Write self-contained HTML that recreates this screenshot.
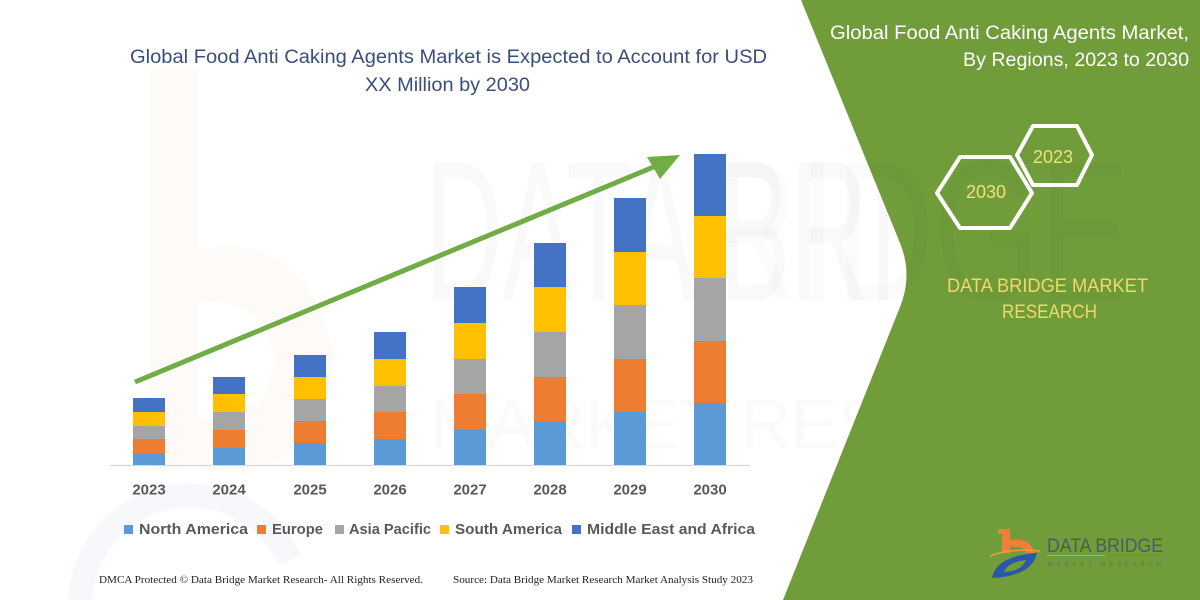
<!DOCTYPE html>
<html>
<head>
<meta charset="utf-8">
<style>
  html,body{margin:0;padding:0;background:#ffffff;width:1200px;height:600px;overflow:hidden;}
  svg{display:block;}
  text{font-family:"Liberation Sans", sans-serif;}
</style>
</head>
<body>
<svg width="1200" height="600" viewBox="0 0 1200 600" xmlns="http://www.w3.org/2000/svg">
  <rect x="0" y="0" width="1200" height="600" fill="#ffffff"/>

  <!-- faint watermarks -->
  <g opacity="0.045">
    <path d="M150 70 L198 70 L198 250 Q300 230 330 340 Q345 440 250 470 L150 470 Z M198 300 L198 420 Q270 420 275 360 Q270 300 198 300 Z" fill="#f08a4b" fill-rule="evenodd"/>
  </g>
  <path d="M80 600 A110 110 0 0 1 290 560" fill="none" stroke="#e6ebf3" stroke-width="24" opacity="0.35"/>
  <text x="425" y="300" font-size="200" textLength="705" lengthAdjust="spacingAndGlyphs" fill="#000" opacity="0.018">DATA BRIDGE</text>
  <text x="430" y="448" font-size="70" textLength="700" lengthAdjust="spacing" fill="#000" opacity="0.015">MARKET RESEARCH</text>

  <!-- green panel -->
  <path d="M801 0 L1200 0 L1200 600 L783 600 L900 307 Q913 275 900 243 Z" fill="#709c3a"/>
  <text x="700" y="300" font-size="200" textLength="430" lengthAdjust="spacingAndGlyphs" fill="#000" opacity="0.012">RIDGE</text>

  <!-- main title -->
  <text x="130" y="63" font-size="19" fill="#3a4e7c" textLength="637" lengthAdjust="spacingAndGlyphs">Global Food Anti Caking Agents Market is Expected to Account for USD</text>
  <text x="365" y="91" font-size="19" fill="#3a4e7c" textLength="165" lengthAdjust="spacingAndGlyphs">XX Million by 2030</text>

  <!-- axis -->
  <line x1="110" y1="465.5" x2="750" y2="465.5" stroke="#d9d9d9" stroke-width="1.2"/>

  <!-- bars -->
  <g id="bars">
    <rect x="133" y="398" width="32" height="14" fill="#4472c4"/>
    <rect x="133" y="412" width="32" height="14" fill="#ffc000"/>
    <rect x="133" y="426" width="32" height="13" fill="#a5a5a5"/>
    <rect x="133" y="439" width="32" height="14" fill="#ed7d31"/>
    <rect x="133" y="453" width="32" height="12" fill="#5b9bd5"/>

    <rect x="213" y="377" width="32" height="17" fill="#4472c4"/>
    <rect x="213" y="394" width="32" height="18" fill="#ffc000"/>
    <rect x="213" y="412" width="32" height="18" fill="#a5a5a5"/>
    <rect x="213" y="430" width="32" height="18" fill="#ed7d31"/>
    <rect x="213" y="448" width="32" height="17" fill="#5b9bd5"/>

    <rect x="294" y="355" width="32" height="22" fill="#4472c4"/>
    <rect x="294" y="377" width="32" height="22" fill="#ffc000"/>
    <rect x="294" y="399" width="32" height="22" fill="#a5a5a5"/>
    <rect x="294" y="421" width="32" height="22" fill="#ed7d31"/>
    <rect x="294" y="443" width="32" height="22" fill="#5b9bd5"/>

    <rect x="374" y="332" width="32" height="27" fill="#4472c4"/>
    <rect x="374" y="359" width="32" height="27" fill="#ffc000"/>
    <rect x="374" y="386" width="32" height="26" fill="#a5a5a5"/>
    <rect x="374" y="412" width="32" height="27" fill="#ed7d31"/>
    <rect x="374" y="439" width="32" height="26" fill="#5b9bd5"/>

    <rect x="454" y="287" width="32" height="36" fill="#4472c4"/>
    <rect x="454" y="323" width="32" height="36" fill="#ffc000"/>
    <rect x="454" y="359" width="32" height="35" fill="#a5a5a5"/>
    <rect x="454" y="394" width="32" height="36" fill="#ed7d31"/>
    <rect x="454" y="430" width="32" height="35" fill="#5b9bd5"/>

    <rect x="534" y="243" width="32" height="44" fill="#4472c4"/>
    <rect x="534" y="287" width="32" height="45" fill="#ffc000"/>
    <rect x="534" y="332" width="32" height="45" fill="#a5a5a5"/>
    <rect x="534" y="377" width="32" height="44" fill="#ed7d31"/>
    <rect x="534" y="421" width="32" height="44" fill="#5b9bd5"/>

    <rect x="614" y="198" width="32" height="54" fill="#4472c4"/>
    <rect x="614" y="252" width="32" height="53" fill="#ffc000"/>
    <rect x="614" y="305" width="32" height="54" fill="#a5a5a5"/>
    <rect x="614" y="359" width="32" height="53" fill="#ed7d31"/>
    <rect x="614" y="412" width="32" height="53" fill="#5b9bd5"/>

    <rect x="694" y="154" width="32" height="62" fill="#4472c4"/>
    <rect x="694" y="216" width="32" height="62" fill="#ffc000"/>
    <rect x="694" y="278" width="32" height="63" fill="#a5a5a5"/>
    <rect x="694" y="341" width="32" height="62" fill="#ed7d31"/>
    <rect x="694" y="403" width="32" height="62" fill="#5b9bd5"/>
  </g>

  <!-- arrow -->
  <line x1="135" y1="382" x2="656" y2="166" stroke="#70ad47" stroke-width="5"/>
  <polygon points="680,155 647,157 660,179" fill="#70ad47"/>

  <!-- year labels -->
  <g font-size="15" font-weight="bold" fill="#595959" text-anchor="middle">
    <text x="149" y="494.5">2023</text>
    <text x="229" y="494.5">2024</text>
    <text x="310" y="494.5">2025</text>
    <text x="390" y="494.5">2026</text>
    <text x="470" y="494.5">2027</text>
    <text x="550" y="494.5">2028</text>
    <text x="630" y="494.5">2029</text>
    <text x="710" y="494.5">2030</text>
  </g>

  <!-- legend -->
  <g font-size="15" font-weight="bold" fill="#595959">
    <rect x="124" y="525" width="9" height="9" fill="#5b9bd5"/>
    <text x="139" y="534" textLength="109" lengthAdjust="spacingAndGlyphs">North America</text>
    <rect x="257" y="525" width="9" height="9" fill="#ed7d31"/>
    <text x="272" y="534" textLength="51" lengthAdjust="spacingAndGlyphs">Europe</text>
    <rect x="335" y="525" width="9" height="9" fill="#a5a5a5"/>
    <text x="349" y="534" textLength="82" lengthAdjust="spacingAndGlyphs">Asia Pacific</text>
    <rect x="440" y="525" width="9" height="9" fill="#ffc000"/>
    <text x="455" y="534" textLength="107" lengthAdjust="spacingAndGlyphs">South America</text>
    <rect x="572" y="525" width="9" height="9" fill="#4472c4"/>
    <text x="587" y="534" textLength="168" lengthAdjust="spacingAndGlyphs">Middle East and Africa</text>
  </g>

  <!-- footer -->
  <g font-size="11" fill="#222222">
    <text x="99" y="583" textLength="324" lengthAdjust="spacingAndGlyphs" style="font-family:'Liberation Serif',serif">DMCA Protected © Data Bridge Market Research-  All Rights Reserved.</text>
    <text x="453" y="583" textLength="300" lengthAdjust="spacingAndGlyphs" style="font-family:'Liberation Serif',serif">Source: Data Bridge Market Research  Market Analysis Study 2023</text>
  </g>

  <!-- right panel title -->
  <text x="830" y="39" font-size="19" fill="#ffffff" textLength="359" lengthAdjust="spacingAndGlyphs">Global Food Anti Caking Agents Market,</text>
  <text x="963" y="66" font-size="19" fill="#ffffff" textLength="226" lengthAdjust="spacingAndGlyphs">By Regions, 2023 to 2030</text>

  <!-- hexagons -->
  <polygon points="937,193 960,157 1010,157 1032,193 1010,228 960,228" fill="none" stroke="#ffffff" stroke-width="4" stroke-linejoin="round"/>
  <polygon points="1017,155 1033,126 1077,126 1092,155 1077,185 1033,185" fill="none" stroke="#ffffff" stroke-width="4" stroke-linejoin="round"/>
  <text x="986" y="198" font-size="18" fill="#eee27a" text-anchor="middle">2030</text>
  <text x="1053" y="163" font-size="18" fill="#eee27a" text-anchor="middle">2023</text>

  <!-- DATA BRIDGE MARKET RESEARCH -->
  <text x="947" y="292" font-size="19" fill="#f2d86a" textLength="201" lengthAdjust="spacingAndGlyphs">DATA BRIDGE MARKET</text>
  <text x="1002" y="318" font-size="19" fill="#f2d86a" textLength="95" lengthAdjust="spacingAndGlyphs">RESEARCH</text>

  <!-- logo -->
  <g>
    <rect x="1002" y="529" width="8" height="24" fill="#f07f3c"/>
    <rect x="998" y="529" width="8" height="5" fill="#f07f3c"/>
    <path d="M1010 540 Q1031 537 1034 553 L1026 553 Q1023 545 1010 547 Z" fill="#f07f3c"/>
    <path d="M992 578 Q996 556 1037 553 Q1032 576 992 578 Z" fill="#2b58a6"/>
    <path d="M1004 572 Q1008 562 1026 560 Q1022 571 1004 572 Z" fill="#709c3a"/>
    <path d="M990 556 Q1010 548 1040 551" fill="none" stroke="#e8a040" stroke-width="1.5"/>
    <text x="1047" y="552" font-size="19" fill="#4b5a68" textLength="116" lengthAdjust="spacingAndGlyphs">DATA BRIDGE</text>
    <line x1="1047" y1="555.5" x2="1105" y2="555.5" stroke="#d9a04a" stroke-width="1"/>
    <line x1="1105" y1="555.5" x2="1163" y2="555.5" stroke="#6f7f8f" stroke-width="1"/>
    <text x="1048" y="566" font-size="6" fill="#5d6c7a" textLength="113" lengthAdjust="spacing">MARKET RESEARCH</text>
  </g>
</svg>
</body>
</html>
